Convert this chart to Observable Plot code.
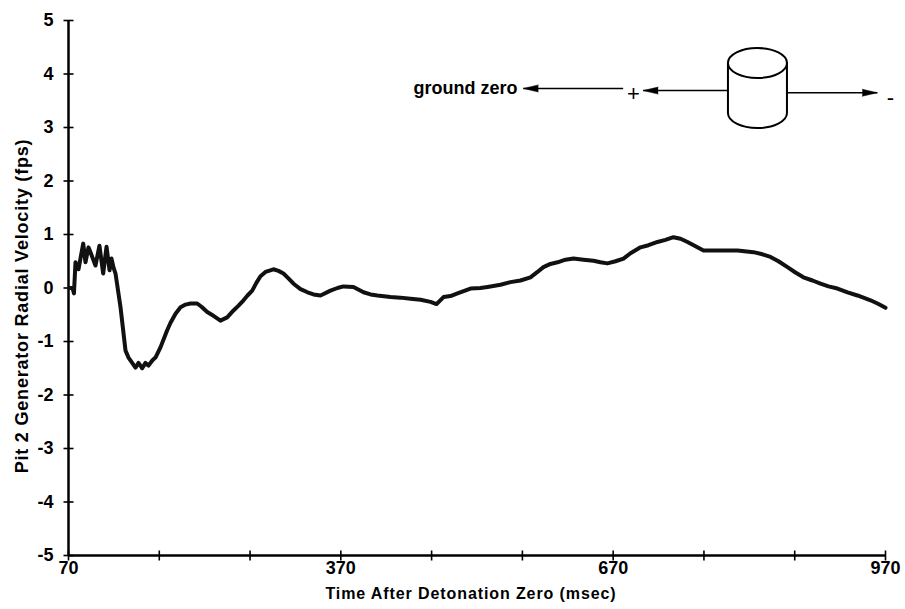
<!DOCTYPE html>
<html>
<head>
<meta charset="utf-8">
<script src="https://cdn.jsdelivr.net/npm/d3@7"></script>
<script src="https://cdn.jsdelivr.net/npm/@observablehq/plot@0.6"></script>
<style>
  html, body { margin: 0; padding: 0; background: #ffffff; }
  #chart svg { display: block; }
</style>
</head>
<body>
<div id="chart"></div>
<script>
// ---- data ----
const time = [71, 74.4, 76, 77.7, 81, 86.2, 88.7, 92, 95.3, 99.7, 104.1, 108.2, 111.9, 115.2, 117.4, 119.6, 121.8,
  127.3, 132.8, 136.1, 139.4, 143.8, 147.1, 151.2, 154.8, 158.1, 162.5, 165.8, 171.3, 178.7, 182.4, 187.9, 193.4,
  198.9, 204.4, 211.8, 216.5, 222.8, 229.7, 237.4, 244.8, 251.8, 257.3, 262.8, 267.2, 272.4, 277.1, 281.5, 287,
  295.8, 301.3, 306.8, 312.3, 317.9, 325.6, 333.3, 339.9, 347.6, 358.6, 366.3, 372.9, 383.9, 395, 402.7, 410.4,
  424.7, 435.7, 446.7, 457.8, 468.8, 475.4, 483.1, 490.8, 498.5, 512.8, 523.8, 531.6, 545.9, 556.9, 567.9, 578.9,
  586.6, 593.2, 600.9, 608.7, 617.5, 626.3, 637.3, 648.3, 656, 663.7, 672.6, 681.4, 689.1, 700.1, 708.9, 718.8,
  727.6, 736.4, 744.2, 751.9, 760.7, 769.5, 788.2, 807, 824.6, 834.5, 843.3, 852.1, 862, 870.8, 879.6, 889.6,
  898.4, 907.2, 917.1, 928.2, 939.1, 945.7, 953.5, 962.3, 970];
const velocity = [0, 0, -0.1, 0.48, 0.35, 0.83, 0.48, 0.76, 0.62, 0.42, 0.79, 0.27, 0.77, 0.33, 0.55, 0.38, 0.27,
  -0.36, -1.17, -1.30, -1.38, -1.49, -1.40, -1.50, -1.40, -1.45, -1.35, -1.30, -1.11, -0.79, -0.65, -0.48, -0.36,
  -0.31, -0.29, -0.29, -0.35, -0.45, -0.52, -0.61, -0.55, -0.42, -0.33, -0.23, -0.14, -0.05, 0.10, 0.22, 0.30,
  0.35, 0.32, 0.27, 0.18, 0.08, -0.02, -0.08, -0.12, -0.14, -0.05, 0.0, 0.03, 0.02, -0.08, -0.12, -0.14,
  -0.17, -0.18, -0.20, -0.22, -0.26, -0.30, -0.17, -0.15, -0.10, -0.01, 0.0, 0.02, 0.06, 0.11, 0.14, 0.20,
  0.30, 0.39, 0.45, 0.48, 0.53, 0.55, 0.53, 0.51, 0.48, 0.46, 0.50, 0.55, 0.65, 0.76, 0.80, 0.86,
  0.90, 0.95, 0.92, 0.86, 0.78, 0.70, 0.70, 0.70, 0.67, 0.63, 0.58, 0.50, 0.39, 0.29, 0.20, 0.14,
  0.08, 0.03, -0.01, -0.08, -0.14, -0.18, -0.23, -0.30, -0.37];

const yTicks = [-5, -4, -3, -2, -1, 0, 1, 2, 3, 4, 5];
const xTicks = [70, 170, 270, 370, 470, 570, 670, 770, 870, 970];
const xTickLabels = [70, 370, 670, 970];
const xTitle = "Time After Detonation Zero (msec)";
const yTitle = "Pit 2 Generator Radial Velocity (fps)";

// inset diagram (data units)
const noteText = ["ground zero", "+", "-"];
const noteX = [564.6, 692.4, 975.5];
const noteY = [3.73, 3.62, 3.55];
const arrowX1 = [681, 797, 862];
const arrowX2 = [571, 703, 961];
const arrowY = [3.73, 3.69, 3.65];
const arrowDir = [-90, -90, 90];
const cylinderCx = [829.5];
const cylinderRx = [32.5];
const cylinderTopY = [4.196];
const cylinderBottomY = [3.26];
const cylinderRy = [0.28];

// ---- build ----
const series = time.map((t, i) => ({t, v: velocity[i]}));
const notes = noteText.map((s, i) => ({s, x: noteX[i], y: noteY[i]}));
const arrows = arrowX1.map((x1, i) => ({x1, x2: arrowX2[i], y: arrowY[i], dir: arrowDir[i]}));

const hTick = {draw(ctx) { ctx.moveTo(-5, 0); ctx.lineTo(5, 0); }};
const vTick = {draw(ctx) { ctx.moveTo(0, -5); ctx.lineTo(0, 5); }};

function cylinderMark(...args) {
  const scales = args.find(a => a && typeof a.x === "function" && typeof a.y === "function");
  const g = d3.create("svg:g").attr("fill", "white").attr("stroke", "black").attr("stroke-width", 2);
  cylinderCx.forEach((cx, i) => {
    const X = scales.x(cx);
    const xl = scales.x(cx - cylinderRx[i]);
    const xr = scales.x(cx + cylinderRx[i]);
    const rx = (xr - xl) / 2;
    const yt = scales.y(cylinderTopY[i]);
    const yb = scales.y(cylinderBottomY[i]);
    const ry = Math.abs(scales.y(0) - scales.y(cylinderRy[i]));
    g.append("path")
      .attr("d", `M${xl},${yt}L${xl},${yb}A${rx},${ry} 0 0 0 ${xr},${yb}L${xr},${yt}Z`);
    g.append("ellipse").attr("cx", X).attr("cy", yt).attr("rx", rx).attr("ry", ry);
  });
  return g.node();
}

const font = "'Liberation Sans', Arial, Helvetica, sans-serif";
const fmt = d => `${d}`;

const chart = Plot.plot({
  width: 905,
  height: 609,
  marginLeft: 68,
  marginRight: 20,
  marginTop: 20,
  marginBottom: 54,
  style: {fontFamily: font, background: "white", color: "black"},
  x: {domain: [70, 970]},
  y: {domain: [-5, 5]},
  marks: [
    Plot.axisY(yTicks, {tickSize: 0, tickPadding: 15, fontSize: 18, fontWeight: "bold", label: null, tickFormat: fmt}),
    Plot.axisX(xTickLabels, {tickSize: 0, tickPadding: 6, fontSize: 18, fontWeight: "bold", label: null, tickFormat: fmt}),
    Plot.text([yTitle], {frameAnchor: "left", textAnchor: "middle", rotate: -90, dx: -46, dy: 18, fontSize: 18, fontWeight: "bold"}),
    Plot.text([xTitle], {frameAnchor: "bottom", textAnchor: "middle", dx: -6, dy: 43, fontSize: 16, fontWeight: "bold"}),
    Plot.ruleX([70], {strokeWidth: 2.5}),
    Plot.ruleY([-5], {strokeWidth: 2.5}),
    Plot.dot(yTicks, {x: () => 70, y: d => d, symbol: hTick, stroke: "black", strokeWidth: 1.6, r: 5}),
    Plot.dot(xTicks, {x: d => d, y: () => -5, symbol: vTick, stroke: "black", strokeWidth: 1.6, r: 5}),
    Plot.line(series, {x: "t", y: "v", stroke: "#111", strokeWidth: 4, strokeLinejoin: "round"}),
    // inset diagram
    Plot.link(arrows, {x1: "x1", x2: "x2", y1: "y", y2: "y", stroke: "black", strokeWidth: 1.5}),
    Plot.vector(arrows, {x: "x2", y: "y", rotate: "dir", length: 15, shape: "spike", r: 3.5, anchor: "end", fill: "black", stroke: "black", strokeWidth: 0.5}),
    cylinderMark,
    Plot.text(notes.slice(0, 1), {x: "x", y: "y", text: "s", textAnchor: "end", fontSize: 18, fontWeight: "bold"}),
    Plot.text(notes.slice(1), {x: "x", y: "y", text: "s", fontSize: 22})
  ]
});

// widen titles to the reference's letter spacing
d3.select(chart).selectAll("text").each(function() {
  const t = this.textContent;
  if (t === xTitle) this.style.letterSpacing = "0.9px";
  if (t === yTitle) this.style.letterSpacing = "0.8px";
});
document.getElementById("chart").appendChild(chart);
</script>
</body>
</html>
